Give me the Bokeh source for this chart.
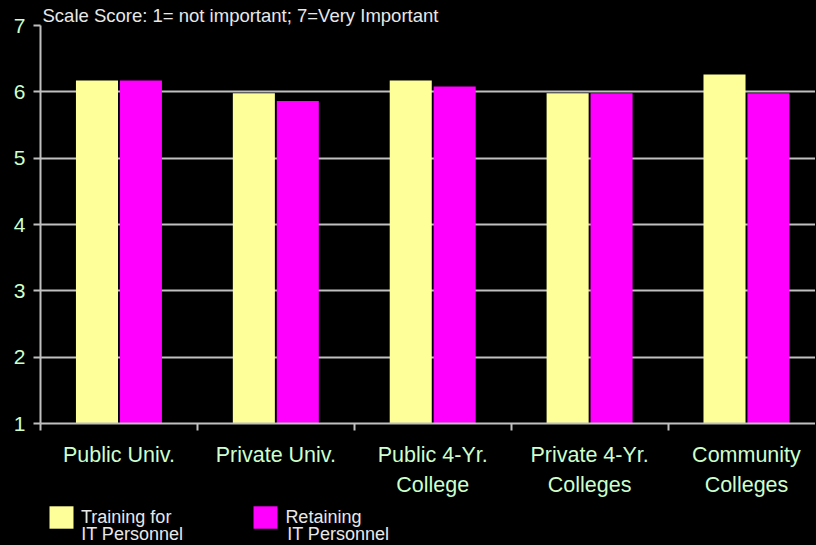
from bokeh.plotting import figure
from bokeh.models import (Range1d, FixedTicker, ColumnDataSource, Legend, LegendItem, Title, Label)
from bokeh.layouts import column
from bokeh.embed import file_html
from bokeh.resources import INLINE

categories = ["Public Univ.", "Private Univ.", "Public 4-Yr.\nCollege", "Private 4-Yr.\nColleges", "Community\nColleges"]
training = [6.17, 5.98, 6.17, 5.98, 6.26]
retaining = [6.17, 5.86, 6.08, 5.98, 5.98]
y_ticks = [1, 2, 3, 4, 5, 6, 7]
series_first_lines = ["Training for", "Retaining"]
series_second_line = "IT Personnel"
title_text = "Scale Score: 1= not important; 7=Very Important"

FONT = "Liberation Sans"
YELLOW = "#ffff99"
MAGENTA = "#ff00ff"
GRID = "#c0c0c0"
LABEL_GREEN = "#ccffcc"
TEXT_WHITE = "#e8e8e8"

centers = [i + 0.5 for i in range(len(categories))]
bounds = [float(i) for i in range(len(categories) + 1)]

src = ColumnDataSource(dict(
    x1=[c - 0.14 for c in centers],
    x2=[c + 0.14 for c in centers],
    t=training, r=retaining,
))

W = 815
p = figure(width=W, height=500, output_backend="svg", toolbar_location=None,
           x_range=Range1d(0, 4.94), y_range=Range1d(1, 7),
           background_fill_color="black", border_fill_color="black",
           min_border_left=40, min_border_right=0, min_border_top=25, min_border_bottom=77)
p.outline_line_color = None

p.vbar(x="x1", top="t", bottom=1, width=0.268, source=src, fill_color=YELLOW, line_color=None)
p.vbar(x="x2", top="r", bottom=1, width=0.268, source=src, fill_color=MAGENTA, line_color=None)

# x axis
p.xaxis.ticker = FixedTicker(ticks=centers, minor_ticks=bounds)
p.xaxis.major_label_overrides = {c: lab for c, lab in zip(centers, categories)}
p.xaxis.major_tick_line_color = None
p.xaxis.minor_tick_line_color = GRID
p.xaxis.minor_tick_line_width = 2
p.xaxis.minor_tick_out = 7
p.xaxis.minor_tick_in = 0
p.xaxis.axis_line_color = GRID
p.xaxis.axis_line_width = 2
p.xaxis.major_label_text_color = LABEL_GREEN
p.xaxis.major_label_text_font = FONT
p.xaxis.major_label_text_font_size = "21.5px"
p.xaxis.major_label_standoff = 12
p.xaxis.major_label_text_line_height = 1.27

# y axis
p.yaxis.ticker = FixedTicker(ticks=y_ticks)
p.yaxis.major_tick_line_color = GRID
p.yaxis.major_tick_line_width = 2
p.yaxis.major_tick_out = 7
p.yaxis.major_tick_in = 0
p.yaxis.minor_tick_line_color = None
p.yaxis.axis_line_color = GRID
p.yaxis.axis_line_width = 2
p.yaxis.major_label_text_color = LABEL_GREEN
p.yaxis.major_label_text_font = FONT
p.yaxis.major_label_text_font_size = "21px"
p.yaxis.major_label_standoff = 8

p.xgrid.grid_line_color = None
p.ygrid.grid_line_color = GRID
p.ygrid.grid_line_width = 2

p.add_layout(Title(text=title_text, text_color=TEXT_WHITE, text_font=FONT,
                   text_font_size="18.5px", text_font_style="normal",
                   align="left", offset=2, standoff=0), "above")

# legend strip below the chart (its frame is aligned with the chart's frame, left = 40px)
q = figure(width=W, height=44, output_backend="svg", toolbar_location=None,
           x_range=Range1d(0, 4.94), y_range=Range1d(100, 101),
           x_axis_location=None, y_axis_location=None,
           background_fill_color="black", border_fill_color="black",
           min_border_left=40, min_border_right=0, min_border_top=0, min_border_bottom=0)
q.outline_line_color = None
q.grid.visible = False
l1 = q.vbar(x="x1", top="t", bottom=1, width=0.268, source=src, fill_color=YELLOW, line_color=None)
l2 = q.vbar(x="x2", top="r", bottom=1, width=0.268, source=src, fill_color=MAGENTA, line_color=None)

legend = Legend(items=[LegendItem(label=series_first_lines[0], renderers=[l1]),
                       LegendItem(label=series_first_lines[1], renderers=[l2])],
                orientation="horizontal", location=(6, 13),
                background_fill_alpha=0, border_line_color=None,
                label_text_color=TEXT_WHITE, label_text_font=FONT,
                label_text_font_size="18px",
                glyph_width=30, glyph_height=28, label_standoff=5,
                spacing=79, padding=0, margin=0)
q.add_layout(legend)

for xs in (40.7, 246.7):
    q.add_layout(Label(x=xs, y=11, x_units="screen", y_units="screen",
                       text=series_second_line, text_color=TEXT_WHITE, text_font=FONT,
                       text_font_size="18px", text_baseline="alphabetic"))

layout = column(p, q, spacing=0)
layout.styles = {"background-color": "black"}

html = file_html(layout, INLINE)
html = html.replace("</head>", "<style>html, body { background: #000; }</style></head>", 1)
open("out.html", "w").write(html)
